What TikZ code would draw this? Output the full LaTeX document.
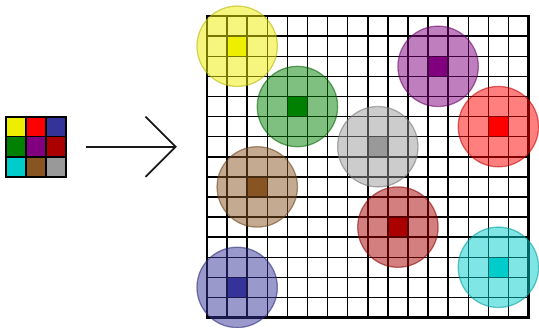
\documentclass[tikz,border=0pt]{standalone}
\usetikzlibrary{arrows.meta}
\begin{document}
\begin{tikzpicture}[
  x=0.5cm, y=0.5cm,
  gridline/.style={line width=1.05pt, draw=black},
  frame/.style={line width=1.5pt, draw=black},
  blob/.style={fill opacity=0.5, draw opacity=0.55, line width=0.9pt},
  mapsto/.style={-{Straight Barb[length=7.5mm, width=15mm]}, line width=1.2pt, draw=black!90}
]

\definecolor{cyellow}{RGB}{238,238,0}
\definecolor{cred}{RGB}{255,0,0}
\definecolor{cblue}{RGB}{51,51,153}
\definecolor{cgreen}{RGB}{0,128,0}
\definecolor{cpurple}{RGB}{128,0,128}
\definecolor{cdarkred}{RGB}{170,0,0}
\definecolor{ccyan}{RGB}{0,204,204}
\definecolor{cbrown}{RGB}{136,85,34}
\definecolor{cgray}{RGB}{153,153,153}

\useasboundingbox (-10.3,0.8) rectangle (16.52,-15.52);

% palette
\foreach \c/\i/\j in {cyellow/0/0, cred/1/0, cblue/2/0,
                      cgreen/0/1, cpurple/1/1, cdarkred/2/1,
                      ccyan/0/2, cbrown/1/2, cgray/2/2}
  \fill[\c] (-10+\i,-5-\j) rectangle ++(1,-1);
\draw[gridline] (-10,-5) grid[step=1] (-7,-8);
\draw[frame] (-10,-5) rectangle (-7,-8);

% mapping arrow
\coordinate (tail) at (-6,-6.5);
\coordinate (tip) at (-1.5,-6.5);
\draw[mapsto] (tail) -- (tip);

% big grid with seeds
\foreach \c/\i/\j in {cyellow/1/1, cgreen/4/4, cgray/8/6, cpurple/11/2, cred/14/5,
                      cbrown/2/8, cdarkred/9/10, cblue/1/13, ccyan/14/12}
  \fill[\c] (\i,-\j) rectangle ++(1,-1);
\draw[gridline] (0,0) grid[step=1] (16,-15);
\draw[frame] (0,0) rectangle (16,-15);
\foreach \c/\i/\j in {cyellow/1/1, cgreen/4/4, cgray/8/6, cpurple/11/2, cred/14/5,
                      cbrown/2/8, cdarkred/9/10, cblue/1/13, ccyan/14/12}
  \filldraw[blob, fill=\c, draw=\c!75!black] (\i+0.5,-\j-0.5) circle (2);

\end{tikzpicture}
\end{document}
